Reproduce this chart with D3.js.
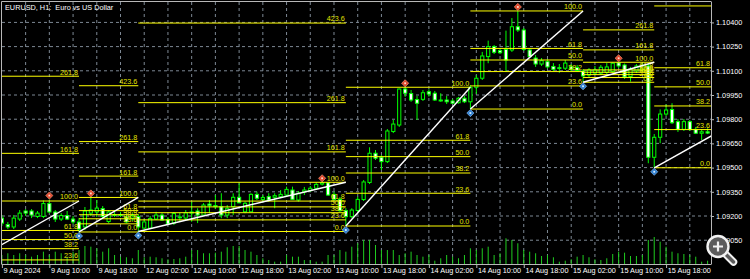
<!DOCTYPE html>
<html>
<head>
<meta charset="utf-8">
<script src="https://cdn.jsdelivr.net/npm/d3@7"></script>
<style>
  html, body { margin: 0; padding: 0; background: #000; overflow: hidden; }
  svg { display: block; }
</style>
</head>
<body>
<svg id="chart" width="750" height="279"></svg>
<script>
// EURUSD H1 bars, 9 Aug 2024 02:00 onwards (bar index 0 = first bar)
const openPrices = [
  1.09187,1.09147,1.09132,1.09181,1.09231,1.09231,1.09197,1.09197,1.09277,1.09225,
  1.09181,1.09203,1.09181,1.09163,1.09132,1.09218,1.09225,1.09246,1.09166,1.09203,
  1.09209,1.09194,1.09187,1.09197,1.09125,1.09125,1.09181,1.09206,1.09178,1.09156,
  1.09194,1.09187,1.09218,1.09231,1.09206,1.09274,1.09258,1.09258,1.09206,1.09258,
  1.09316,1.09226,1.09226,1.09334,1.09303,1.09320,1.09316,1.09320,1.09330,1.09361,
  1.09299,1.09349,1.09357,1.09372,1.09398,1.09406,1.09334,1.09303,1.09233,1.09196,
  1.09234,1.09302,1.09408,1.09589,1.09564,1.09537,1.09724,1.09764,1.09987,1.09959,
  1.09922,1.09923,1.09970,1.09961,1.09919,1.09919,1.09913,1.09902,1.09930,1.09908,
  1.09998,1.10054,1.10188,1.10250,1.10225,1.10233,1.10229,1.10373,1.10353,1.10229,
  1.10179,1.10142,1.10157,1.10127,1.10119,1.10116,1.10126,1.10121,1.10099,1.10074,
  1.10086,1.10086,1.10090,1.10095,1.10150,1.10136,1.10065,1.10099,1.10105,1.10130,
  1.09564,1.09688,1.09832,1.09860,1.09785,1.09737,1.09785,1.09737,1.09713,1.09722
];
const highPrices = [
  1.09206,1.09163,1.09206,1.09237,1.09243,1.09243,1.09231,1.09296,1.09302,1.09237,
  1.09218,1.09231,1.09200,1.09187,1.09256,1.09315,1.09299,1.09262,1.09237,1.09225,
  1.09225,1.09212,1.09218,1.09212,1.09181,1.09200,1.09226,1.09218,1.09194,1.09225,
  1.09220,1.09237,1.09289,1.09248,1.09280,1.09299,1.09330,1.09341,1.09268,1.09341,
  1.09403,1.09289,1.09341,1.09351,1.09330,1.09341,1.09341,1.09361,1.09382,1.09382,
  1.09355,1.09380,1.09386,1.09408,1.09409,1.09408,1.09351,1.09318,1.09249,1.09248,
  1.09320,1.09423,1.09626,1.09609,1.09578,1.09739,1.09795,1.09990,1.09998,1.09981,
  1.09944,1.09981,1.09985,1.09975,1.09961,1.09944,1.09925,1.09938,1.09944,1.10012,
  1.10074,1.10217,1.10287,1.10260,1.10241,1.10349,1.10427,1.10471,1.10365,1.10241,
  1.10198,1.10179,1.10173,1.10148,1.10142,1.10167,1.10142,1.10136,1.10111,1.10117,
  1.10130,1.10136,1.10148,1.10152,1.10153,1.10145,1.10124,1.10142,1.10148,1.10148,
  1.09708,1.09861,1.09892,1.09899,1.09801,1.09801,1.09795,1.09752,1.09739,1.09744
];
const lowPrices = [
  1.09138,1.09119,1.09119,1.09169,1.09200,1.09187,1.09187,1.09187,1.09218,1.09163,
  1.09169,1.09175,1.09150,1.09101,1.09113,1.09200,1.09194,1.09187,1.09156,1.09194,
  1.09194,1.09156,1.09169,1.09104,1.09119,1.09119,1.09175,1.09169,1.09144,1.09144,
  1.09164,1.09175,1.09164,1.09156,1.09200,1.09217,1.09243,1.09186,1.09187,1.09206,
  1.09279,1.09217,1.09225,1.09299,1.09289,1.09289,1.09248,1.09311,1.09320,1.09299,
  1.09289,1.09330,1.09349,1.09361,1.09389,1.09324,1.09293,1.09225,1.09138,1.09186,
  1.09225,1.09293,1.09398,1.09547,1.09485,1.09528,1.09714,1.09752,1.09938,1.09908,
  1.09795,1.09913,1.09940,1.09913,1.09908,1.09894,1.09894,1.09897,1.09900,1.09863,
  1.09956,1.10043,1.10147,1.10204,1.10204,1.10095,1.10217,1.10341,1.10223,1.10179,
  1.10124,1.10130,1.10114,1.10099,1.10088,1.10105,1.10099,1.10093,1.10029,1.10062,
  1.10074,1.10074,1.10080,1.10086,1.10117,1.10049,1.10033,1.10086,1.10093,1.09527,
  1.09499,1.09651,1.09820,1.09770,1.09721,1.09727,1.09727,1.09708,1.09671,1.09708
];
const closePrices = [
  1.09156,1.09132,1.09187,1.09218,1.09218,1.09206,1.09218,1.09277,1.09225,1.09181,
  1.09203,1.09181,1.09163,1.09119,1.09231,1.09237,1.09249,1.09197,1.09225,1.09209,
  1.09203,1.09163,1.09203,1.09132,1.09163,1.09184,1.09206,1.09175,1.09150,1.09215,
  1.09191,1.09220,1.09225,1.09206,1.09268,1.09264,1.09265,1.09206,1.09248,1.09316,
  1.09282,1.09279,1.09334,1.09310,1.09315,1.09299,1.09326,1.09334,1.09365,1.09303,
  1.09341,1.09361,1.09372,1.09396,1.09406,1.09330,1.09303,1.09233,1.09196,1.09237,
  1.09303,1.09411,1.09589,1.09558,1.09537,1.09727,1.09770,1.09987,1.09961,1.09919,
  1.09899,1.09964,1.09956,1.09919,1.09913,1.09908,1.09899,1.09930,1.09908,1.09998,
  1.10054,1.10192,1.10250,1.10215,1.10212,1.10167,1.10373,1.10353,1.10233,1.10188,
  1.10142,1.10163,1.10124,1.10109,1.10116,1.10148,1.10109,1.10102,1.10068,1.10105,
  1.10105,1.10122,1.10124,1.10147,1.10130,1.10062,1.10111,1.10130,1.10133,1.09564,
  1.09688,1.09832,1.09857,1.09778,1.09737,1.09785,1.09736,1.09713,1.09722,1.09714
];
const tickVolumes = [
  2250,2680,2250,2680,2250,1830,2250,3080,2250,3080,
  2680,1830,3080,3500,4500,4330,3930,3080,3930,2250,
  1830,1680,1430,3500,1680,1830,1680,1430,1180,1250,
  1430,1830,3500,3500,2680,2680,2830,3080,4180,4500,
  4500,3500,3080,2250,1430,1000,580,580,2250,1830,
  1830,1000,1000,580,580,2250,2250,3500,3080,4330,
  5180,6000,6000,4750,3500,3500,3500,2250,2680,3080,
  2250,1830,2250,830,1430,2250,1830,1430,2250,3930,
  3500,3930,4330,2250,2680,6430,6000,5180,3500,3080,
  2680,2000,2250,1680,580,830,1180,1830,2250,1680,
  1180,1000,1430,2500,3080,2830,2000,2000,2250,6000,
  6750,5580,4330,3080,2680,2500,2250,1830,580,830
];

// Time axis
const timeTickBars = [0, 8, 16, 24, 32, 40, 48, 56, 64, 72, 80, 88, 96, 104, 112];
const timeLabels = ["9 Aug 2024", "9 Aug 10:00", "9 Aug 18:00", "12 Aug 02:00", "12 Aug 10:00",
  "12 Aug 18:00", "13 Aug 02:00", "13 Aug 10:00", "13 Aug 18:00", "14 Aug 02:00",
  "14 Aug 10:00", "14 Aug 18:00", "15 Aug 02:00", "15 Aug 10:00", "15 Aug 18:00"];
const gridBars = d3.range(4, 120, 4);

// Price axis
const priceTicks = [1.10400, 1.10250, 1.10100, 1.09950, 1.09800, 1.09650, 1.09500, 1.09350, 1.09200, 1.09050];

// Fibonacci retracements: level 0 at the "from" anchor, level 100 at the "to" anchor
const fibFromBar   = [-10, 13, 23, 58, 79, 98, 110];
const fibFromPrice = [1.08815, 1.09101, 1.09104, 1.09138, 1.09863, 1.10029, 1.09499];
const fibToBar     = [13, 23, 58, 79, 98, 110, 159];
const fibToPrice   = [1.09293, 1.09315, 1.09409, 1.09998, 1.10471, 1.10153, 1.10502];
const fibLevels    = [0, 23.6, 38.2, 50, 61.8, 100, 161.8, 261.8, 423.6];

// Swing markers
const swingHighBars = [8, 15, 54, 68, 87, 104];
const swingLowBars  = [13, 23, 58, 79, 98, 110];

// ---------------------------------------------------------------
const svg = d3.select("#chart");
const plot = { left: 2, top: 2, right: 711, bottom: 264 };
const priceTop = 1.105265, priceBottom = 1.089025;
const FONT = "'Liberation Sans', Arial, sans-serif";

const x = d3.scaleLinear().domain([0, 119]).range([1.9, 707.6]);
const y = d3.scaleLinear().domain([priceBottom, priceTop]).range([plot.bottom, plot.top]);
const yVol = d3.scaleLinear().domain([0, 25000]).range([plot.bottom, plot.bottom - 100]);

svg.append("rect").attr("width", 750).attr("height", 279).attr("fill", "#000");

svg.append("defs").append("clipPath").attr("id", "plotClip")
  .append("rect")
  .attr("x", plot.left).attr("y", plot.top)
  .attr("width", plot.right - plot.left).attr("height", plot.bottom - plot.top);

const area = svg.append("g").attr("clip-path", "url(#plotClip)");

// grid
const grid = area.append("g").attr("stroke", "#7d8894").attr("stroke-width", 1).attr("stroke-dasharray", "3,3");
grid.selectAll("line.h").data(priceTicks).join("line").attr("class", "h")
  .attr("x1", plot.left).attr("x2", plot.right)
  .attr("y1", d => y(d)).attr("y2", d => y(d));
grid.selectAll("line.v").data(gridBars).join("line").attr("class", "v")
  .attr("x1", d => x(d)).attr("x2", d => x(d))
  .attr("y1", plot.top).attr("y2", plot.bottom);

// tick volumes
area.append("g").selectAll("line").data(tickVolumes).join("line")
  .attr("x1", (d, i) => x(i)).attr("x2", (d, i) => x(i))
  .attr("y1", yVol(0)).attr("y2", d => yVol(d))
  .attr("stroke", "#1fcc1f").attr("stroke-width", 1);

// candles
const bars = d3.range(openPrices.length).map(i => ({
  i, o: openPrices[i], h: highPrices[i], l: lowPrices[i], c: closePrices[i]
}));
const candles = area.append("g").selectAll("g").data(bars).join("g");
candles.append("line")
  .attr("x1", d => x(d.i)).attr("x2", d => x(d.i))
  .attr("y1", d => y(d.h)).attr("y2", d => y(d.l))
  .attr("stroke", "#00ff00").attr("stroke-width", 1);
candles.append("rect")
  .attr("x", d => x(d.i) - 1.6).attr("width", 3.2)
  .attr("y", d => y(Math.max(d.o, d.c)))
  .attr("height", d => Math.max(0.8, Math.abs(y(d.o) - y(d.c))))
  .attr("fill", d => d.c >= d.o ? "#000" : "#fff")
  .attr("stroke", "#00ff00").attr("stroke-width", 1);

// fibonacci levels
const fibs = fibFromBar.map((b, k) => ({
  x1: b, x2: fibToBar[k], p0: fibFromPrice[k], p100: fibToPrice[k]
}));
const fibG = area.append("g");
fibs.forEach(f => {
  const levels = fibLevels.map(L => ({ L, p: f.p0 + (f.p100 - f.p0) * L / 100 }));
  fibG.append("g").selectAll("line").data(levels).join("line")
    .attr("x1", x(f.x1)).attr("x2", x(f.x2))
    .attr("y1", d => y(d.p)).attr("y2", d => y(d.p))
    .attr("stroke", "#ffff00").attr("stroke-width", 1);
  // a level's caption sits just above its line; captions with no room inside the plot are left out
  const labelX = Math.min(x(f.x2), plot.right) - 1;
  const shown = levels.filter(d => y(d.p) - 1.6 > plot.top + 6 && y(d.p) - 1.6 < plot.bottom);
  fibG.append("g").selectAll("text").data(shown).join("text")
    .attr("x", labelX).attr("y", d => y(d.p) - 1.6)
    .attr("text-anchor", "end")
    .attr("font-family", FONT).attr("font-size", 7.2)
    .attr("fill", "#e6e600")
    .text(d => d3.format(".1f")(d.L));
});

// fibonacci trend lines
area.append("g").selectAll("line").data(fibs).join("line")
  .attr("x1", d => x(d.x1)).attr("y1", d => y(d.p0))
  .attr("x2", d => x(d.x2)).attr("y2", d => y(d.p100))
  .attr("stroke", "#ffffff").attr("stroke-width", 1.4);

// swing markers
const markerPath = "M0,-3.6L3.6,0L0,3.6L-3.6,0Z";
const markers = area.append("g");
markers.selectAll("g.hi").data(swingHighBars).join("g").attr("class", "hi")
  .attr("transform", d => `translate(${x(d)},${y(highPrices[d]) - 4})`)
  .call(g => {
    g.append("path").attr("d", markerPath).attr("fill", "#e0482c").attr("stroke", "#ff9a80").attr("stroke-width", 0.6);
    g.append("rect").attr("x", -0.9).attr("y", -0.9).attr("width", 1.8).attr("height", 1.8).attr("fill", "#ffd8cc");
  });
markers.selectAll("g.lo").data(swingLowBars).join("g").attr("class", "lo")
  .attr("transform", d => `translate(${x(d)},${y(lowPrices[d]) + 4})`)
  .call(g => {
    g.append("path").attr("d", markerPath).attr("fill", "#2f7fd0").attr("stroke", "#8cc4ff").attr("stroke-width", 0.6);
    g.append("rect").attr("x", -0.9).attr("y", -0.9).attr("width", 1.8).attr("height", 1.8).attr("fill", "#d6ecff");
  });

// frame
const frameColor = "#b8b8b8";
svg.append("path")
  .attr("d", `M${plot.left - 0.5},${plot.bottom}V${plot.top - 0.5}H${plot.right}`)
  .attr("fill", "none").attr("stroke", frameColor).attr("stroke-width", 1);

// price axis
const yAxis = svg.append("g").attr("transform", `translate(${plot.right},0)`)
  .call(d3.axisRight(y).tickValues(priceTicks).tickFormat(d3.format(".5f")).tickSize(3).tickPadding(2));
yAxis.select(".domain").attr("stroke", frameColor).attr("d", `M0.5,${plot.top - 0.5}V${plot.bottom}`);
yAxis.selectAll(".tick line").attr("stroke", frameColor);
yAxis.selectAll("text").attr("fill", "#fff").attr("font-family", FONT).attr("font-size", 7.3);

// time axis
const xAxis = svg.append("g").attr("transform", `translate(0,${plot.bottom})`)
  .call(d3.axisBottom(x).tickValues(timeTickBars).tickFormat((d, i) => timeLabels[i]).tickSize(4));
xAxis.select(".domain").attr("stroke", frameColor).attr("d", `M${plot.left - 0.5},0.5H${plot.right + 0.5}`);
xAxis.selectAll(".tick line").attr("stroke", frameColor);
xAxis.selectAll("text")
  .attr("fill", "#fff").attr("font-family", FONT).attr("font-size", 7.3)
  .attr("text-anchor", "start").attr("x", 1.2).attr("y", 8.7).attr("dy", null);

// title
svg.append("text").attr("x", 5).attr("y", 10)
  .attr("fill", "#fff").attr("font-family", FONT).attr("font-size", 7.3)
  .attr("xml:space", "preserve")
  .text("EURUSD, H1:  Euro vs US Dollar");

// zoom button
const zoomBtn = svg.append("g").attr("transform", "translate(718,246.5)");
zoomBtn.append("line").attr("x1", 6.5).attr("y1", 6.5).attr("x2", 15.5).attr("y2", 15.5)
  .attr("stroke", "#f2f2f2").attr("stroke-width", 7.5).attr("stroke-linecap", "round");
zoomBtn.append("line").attr("x1", 6.5).attr("y1", 6.5).attr("x2", 15.5).attr("y2", 15.5)
  .attr("stroke", "#5c5c5c").attr("stroke-width", 3.5).attr("stroke-linecap", "round");
zoomBtn.append("circle").attr("r", 10.5).attr("fill", "#5c5c5c").attr("stroke", "#f2f2f2").attr("stroke-width", 2.4);
zoomBtn.append("path").attr("d", "M-5,0H5M0,-5V5").attr("stroke", "#f2f2f2").attr("stroke-width", 2.2);
</script>
</body>
</html>
